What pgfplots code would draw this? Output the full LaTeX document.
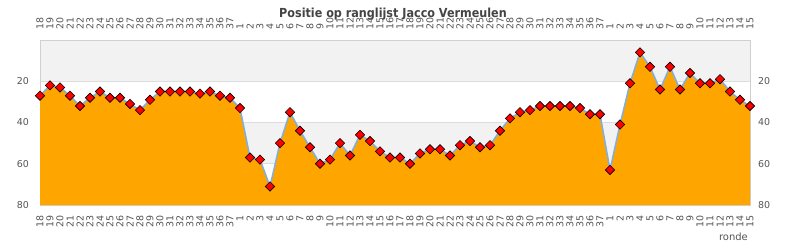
\documentclass[border=0pt]{standalone}
\usepackage{fontspec}
\setmainfont{DejaVu Sans}
\newfontfamily\titlefont{DejaVu Sans Condensed}
\usepackage{pgfplots}
\usepackage{pgfplotstable}
\usepgfplotslibrary{fillbetween}
\pgfplotsset{compat=1.18}
\definecolor{band}{HTML}{F2F2F2}
\definecolor{gridc}{HTML}{DDDDDD}
\definecolor{framec}{HTML}{D0D0D0}
\definecolor{linec}{HTML}{7FAEE0}
\definecolor{txt}{HTML}{555555}
\definecolor{ttl}{HTML}{444444}
\definecolor{areac}{HTML}{FFA500}
\pgfplotstableread{
x y
0 27
1 22
2 23
3 27
4 32
5 28
6 25
7 28
8 28
9 31
10 34
11 29
12 25
13 25
14 25
15 25
16 26
17 25
18 27
19 28
20 33
21 57
22 58
23 71
24 50
25 35
26 44
27 52
28 60
29 58
30 50
31 56
32 46
33 49
34 54
35 57
36 57
37 60
38 55
39 53
40 53
41 56
42 51
43 49
44 52
45 51
46 44
47 38
48 35
49 34
50 32
51 32
52 32
53 32
54 33
55 36
56 36
57 63
58 41
59 21
60 6
61 13
62 24
63 13
64 24
65 16
66 21
67 21
68 19
69 25
70 29
71 32
}\data
\def\labs{18,19,20,21,22,23,24,25,26,27,28,29,30,31,32,33,34,35,36,37,1,2,3,4,5,6,7,8,9,10,11,12,13,14,15,16,17,18,19,20,21,22,23,24,25,26,27,28,29,30,31,32,33,34,35,36,37,1,2,3,4,5,6,7,8,9,10,11,12,13,14,15}
\begin{document}
\begin{tikzpicture}
\pgfplotsset{
  common/.style={
    scale only axis, width=710bp, height=165bp, at={(0,0)}, anchor=south west,
    xmin=0, xmax=71, ymin=0, ymax=80, y dir=reverse,
    xtick={0,...,71}, xticklabels/.expand once={\labs},
    ytick={20,40,60,80},
    major tick length=0pt,
    tick style={draw=none},
    ticklabel style={font=\fontsize{9.5}{10}\selectfont, text=txt},
    /pgf/number format/assume math mode=true,
  }
}
\begin{axis}[common, set layers,
    axis line style={framec},
    ymajorgrids, grid style={gridc, line width=0.8bp},
    xticklabel style={rotate=90, anchor=east, inner sep=0pt},
    xticklabel shift=10bp,
    yticklabel style={anchor=east, inner sep=0pt},
    yticklabel shift=11bp,
    clip=false,
    title={\titlefont\bfseries Positie op ranglijst Jacco Vermeulen},
    title style={at={(axis description cs:0.5,1)}, anchor=center, yshift=20bp, xshift=-2bp, text=ttl, font=\fontsize{12.5}{13}\selectfont, inner sep=0pt},
    xlabel={ronde},
    xlabel style={at={(axis description cs:1,0)}, anchor=north east, yshift=-28bp, xshift=-2bp, text=txt, font=\fontsize{10}{11}\selectfont, inner sep=0pt},
]
\begin{pgfonlayer}{axis background}
\fill[band] (axis cs:0,0) rectangle (axis cs:71,20);
\fill[band] (axis cs:0,40) rectangle (axis cs:71,60);
\end{pgfonlayer}
\addplot[draw=none, name path=A] table[x=x,y=y] {\data};
\addplot[draw=none, name path=B] coordinates {(0,80) (71,80)};
\addplot[areac] fill between[of=A and B];
\addplot[linec, line width=1.5bp, mark=square*, mark size=3.3bp,
  mark options={rotate=45, fill=red, draw=black, line width=0.6bp}] table[x=x,y=y] {\data};
\end{axis}
\begin{axis}[common,
    axis line style={draw=none},
    xticklabel pos=upper, yticklabel pos=upper,
    xticklabel style={rotate=90, anchor=west, inner sep=0pt},
    xticklabel shift=10bp,
    yticklabel style={anchor=west, inner sep=0pt},
    yticklabel shift=8bp,
]
\addplot[draw=none] coordinates {(0,0)};
\end{axis}
\pgfresetboundingbox
\path[use as bounding box] (-40bp,-45bp) rectangle (750bp,205bp);
\end{tikzpicture}
\end{document}
